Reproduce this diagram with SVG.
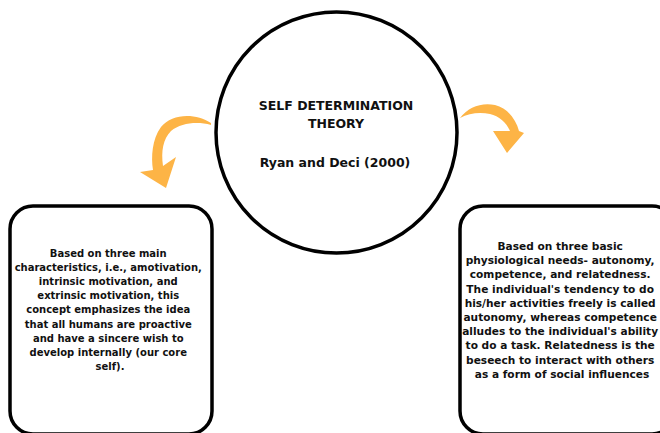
<svg xmlns="http://www.w3.org/2000/svg" width="660" height="433" viewBox="0 0 660 433">
<style>
.shape{fill:#ffffff;stroke:#000000;stroke-width:3.5}
.arrow{fill:#FDB446;stroke:none}
.t{font-family:"DejaVu Sans","Liberation Sans",sans-serif;font-weight:bold;fill:#111111;text-anchor:middle}
.title{font-size:12.5px}
.body{font-size:10px}
.bodyr{font-size:10.6px}
</style>
<rect x="0" y="0" width="660" height="433" fill="#ffffff"/>
<g id="connectors">
<path class="arrow" d="M211,123 C196,113 172,113 161,127 C152,139 151,157 153,170 L140,172 L166,188 L176,157 L163,166 C161,151 163,139 171,131 C181,123 197,121 211,125 Z"/>
<path class="arrow" d="M460,118 C468,107 482,102 495,105 C508,108 516,120 519,131 L524,133 L507,153 L493,131 L510,131 C506,122 499,116 490,114 C480,112 469,113 460,118 Z"/>
</g>
<g id="center">
<circle class="shape" cx="336.5" cy="132.5" r="120.5"/>
<text class="t title" x="336" y="110">SELF DETERMINATION</text>
<text class="t title" x="336" y="128.3">THEORY</text>
<text class="t title" x="335" y="166.7">Ryan and Deci (2000)</text>
</g>
<g id="left-box">
<rect class="shape" x="10" y="206" width="202" height="228" rx="23"/>
<text class="t body" x="110">
<tspan x="110" y="256.5">Based on three main</tspan>
<tspan x="110" y="270.7">characteristics, i.e., amotivation,</tspan>
<tspan x="110" y="284.9">intrinsic motivation, and</tspan>
<tspan x="110" y="299.1">extrinsic motivation, this</tspan>
<tspan x="110" y="313.3">concept emphasizes the idea</tspan>
<tspan x="110" y="327.5">that all humans are proactive</tspan>
<tspan x="110" y="341.7">and have a sincere wish to</tspan>
<tspan x="110" y="355.9">develop internally (our core</tspan>
<tspan x="110" y="370.1">self).</tspan>
</text>
</g>
<g id="right-box">
<rect class="shape" x="460" y="206" width="215" height="228" rx="23"/>
<text class="t bodyr" x="562">
<tspan x="562" y="250">Based on three basic</tspan>
<tspan x="562" y="264.2">physiological needs- autonomy,</tspan>
<tspan x="562" y="278.4">competence, and relatedness.</tspan>
<tspan x="562" y="292.6">The individual's tendency to do</tspan>
<tspan x="562" y="306.8">his/her activities freely is called</tspan>
<tspan x="562" y="321">autonomy, whereas competence</tspan>
<tspan x="562" y="335.2">alludes to the individual's ability</tspan>
<tspan x="562" y="349.4">to do a task. Relatedness is the</tspan>
<tspan x="562" y="363.6">beseech to interact with others</tspan>
<tspan x="562" y="377.8">as a form of social influences</tspan>
</text>
</g>
</svg>
